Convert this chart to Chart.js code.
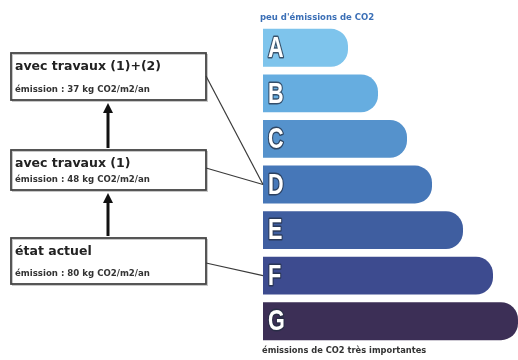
<!DOCTYPE html>
<html><head><meta charset="utf-8">
<script src="https://cdn.jsdelivr.net/npm/chart.js@4/dist/chart.umd.min.js"></script>
<style>html,body{margin:0;padding:0;background:#fff}#wrap{width:518px;height:360px;position:relative}</style>
</head><body><div id="wrap"><canvas id="c"></canvas></div>
<script>
const classes = ['A','B','C','D','E','F','G'];
const barLengths = [85, 115, 144, 169, 200, 230, 255];
const topLabel = "peu d'émissions de CO2";
const bottomLabel = 'émissions de CO2 très importantes';
const boxTitles = ['avec travaux (1)+(2)', 'avec travaux (1)', 'état actuel'];
const boxEmissions = [37, 48, 80];
const boxTargets = ['D', 'D', 'F'];

const barColors = ['#7ec4ec', '#66ade0', '#5592cc', '#4677b8', '#3f5ea0', '#3d4b8f', '#3c2f56'];
const FONT = '"DejaVu Sans", "Liberation Sans", sans-serif';

const overlay = {
  id: 'overlay',
  afterDatasetsDraw(chart) {
    const ctx = chart.ctx, y = chart.scales.y, area = chart.chartArea;
    ctx.save();
    // class letters (condensed, outlined)
    ctx.textBaseline = 'middle'; ctx.textAlign = 'left';
    classes.forEach((c, i) => {
      const py = y.getPixelForValue(i) + 1;
      ctx.save();
      ctx.translate(area.left + 5, py);
      ctx.scale(0.72, 1);
      ctx.font = 'bold 30px "Liberation Sans", Arial, sans-serif';
      ctx.lineWidth = 3; ctx.strokeStyle = 'rgba(35,45,65,0.75)';
      ctx.lineJoin = 'round';
      ctx.strokeText(c, 0, 0);
      ctx.fillStyle = '#ffffff';
      ctx.fillText(c, 0, 0);
      ctx.restore();
    });
    // top/bottom labels
    ctx.font = 'bold 8.5px ' + FONT;
    ctx.fillStyle = '#3b6fb6';
    ctx.fillText(topLabel, area.left - 3, 18);
    ctx.font = 'bold 8.3px ' + FONT;
    ctx.fillStyle = '#333';
    ctx.fillText(bottomLabel, area.left - 1, 351);
    // boxes
    const boxes = [{t: 53, b: 100}, {t: 150, b: 190}, {t: 238, b: 284}];
    const starts = [76, 168, 263];
    const L = 11, R = 206;
    boxes.forEach((bx, i) => {
      ctx.fillStyle = '#fff';
      ctx.fillRect(L, bx.t, R - L, bx.b - bx.t);
      ctx.strokeStyle = '#c8c8c8'; ctx.lineWidth = 1;
      ctx.strokeRect(L + 1.5, bx.t + 1.5, R - L, bx.b - bx.t);
      ctx.strokeStyle = '#444'; ctx.lineWidth = 1.8;
      ctx.strokeRect(L, bx.t, R - L, bx.b - bx.t);
      ctx.fillStyle = '#222';
      ctx.font = 'bold 12.5px ' + FONT;
      ctx.fillText(boxTitles[i], L + 4, bx.t + 14);
      ctx.font = 'bold 8.6px ' + FONT;
      ctx.fillStyle = '#333';
      ctx.fillText('émission : ' + boxEmissions[i] + ' kg CO2/m2/an', L + 4, bx.b - 10);
      // connector
      const ty = y.getPixelForValue(classes.indexOf(boxTargets[i]));
      ctx.strokeStyle = '#3a3a3a'; ctx.lineWidth = 1.2;
      ctx.beginPath(); ctx.moveTo(R, starts[i]); ctx.lineTo(area.left, ty); ctx.stroke();
    });
    // upward arrows between boxes
    ctx.fillStyle = '#111'; ctx.strokeStyle = '#111'; ctx.lineWidth = 3;
    [[boxes[1].t, boxes[0].b], [boxes[2].t, boxes[1].b]].forEach(([from, to]) => {
      const ax = 108;
      ctx.beginPath(); ctx.moveTo(ax, from - 2); ctx.lineTo(ax, to + 10); ctx.stroke();
      ctx.beginPath(); ctx.moveTo(ax, to + 3); ctx.lineTo(ax - 5, to + 13); ctx.lineTo(ax + 5, to + 13); ctx.closePath(); ctx.fill();
    });
    ctx.restore();
  }
};

new Chart(document.getElementById('c'), {
  type: 'bar',
  data: {
    labels: classes,
    datasets: [{
      data: barLengths,
      backgroundColor: barColors,
      borderRadius: 17,
      borderSkipped: 'start',
      categoryPercentage: 1,
      barPercentage: 0.83
    }]
  },
  options: {
    indexAxis: 'y',
    responsive: true,
    maintainAspectRatio: false,
    animation: false,
    layout: {padding: {left: 263, top: 25, right: 0, bottom: 16}},
    plugins: {legend: {display: false}, tooltip: {enabled: false}},
    scales: {
      x: {display: false, min: 0, max: 255},
      y: {display: false}
    }
  },
  plugins: [overlay]
});
</script></body></html>
